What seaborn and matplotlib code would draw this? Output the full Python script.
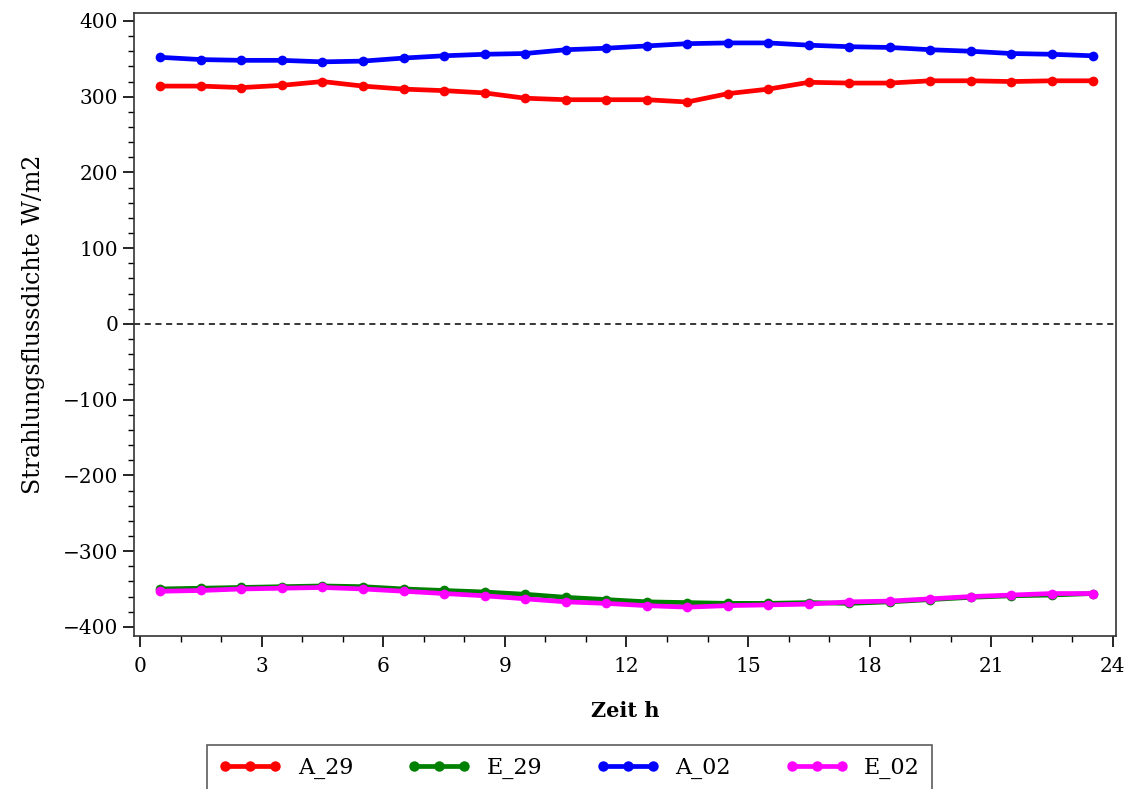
#### Strahlungsflussdichte über den Tag - A/E Messreihen ####

import pandas as pd
import numpy as np
import matplotlib
matplotlib.use('Agg')
import matplotlib.pyplot as plt
from matplotlib.ticker import MultipleLocator
import seaborn as sns

#### Daten ####
zeit = [0.5, 1.5, 2.5, 3.5, 4.5, 5.5, 6.5, 7.5, 8.5, 9.5, 10.5, 11.5,
        12.5, 13.5, 14.5, 15.5, 16.5, 17.5, 18.5, 19.5, 20.5, 21.5, 22.5, 23.5]

a_29 = [314, 314, 312, 315, 320, 314, 310, 308, 305, 298, 296, 296,
        296, 293, 304, 310, 319, 318, 318, 321, 321, 320, 321, 321]
e_29 = [-350, -349, -348, -347, -346, -347, -350, -352, -354, -357, -361, -364,
        -367, -368, -369, -369, -368, -369, -367, -364, -361, -359, -358, -356]
a_02 = [352, 349, 348, 348, 346, 347, 351, 354, 356, 357, 362, 364,
        367, 370, 371, 371, 368, 366, 365, 362, 360, 357, 356, 354]
e_02 = [-353, -352, -350, -349, -348, -350, -353, -356, -359, -363, -367, -369,
        -372, -374, -372, -371, -370, -367, -366, -363, -360, -358, -356, -356]

serien = ['A_29', 'E_29', 'A_02', 'E_02']
farben = ['#ff0000', '#008000', '#0000ff', '#ff00ff']

df = pd.DataFrame({
    'Zeit': zeit * 4,
    'Wert': a_29 + e_29 + a_02 + e_02,
    'Serie': [s for s in serien for _ in zeit],
})

#### Grafik ####
sns.set_style('ticks')
plt.rcParams['font.family'] = ['DejaVu Serif']
plt.rcParams['text.color'] = 'black'
plt.rcParams['axes.labelcolor'] = 'black'
plt.rcParams['xtick.color'] = 'black'
plt.rcParams['ytick.color'] = 'black'

fig = plt.figure(figsize=(11.32, 7.89), dpi=100)
ax = fig.add_axes([0.1184, 0.194, 0.8675, 0.790])

sns.lineplot(data=df, x='Zeit', y='Wert', hue='Serie', hue_order=serien,
             palette=farben, marker='o', markersize=7, markeredgewidth=0,
             linewidth=3.4, ax=ax, legend=False)

ax.axhline(0, color='black', linestyle='--', linewidth=1.1, dashes=(4, 3))

ax.set_xlim(-0.15, 24.08)
ax.set_ylim(-412, 411)
ax.xaxis.set_major_locator(MultipleLocator(3))
ax.xaxis.set_minor_locator(MultipleLocator(1))
ax.yaxis.set_minor_locator(MultipleLocator(20))
ax.tick_params(axis='both', which='major', length=8, width=1.2, labelsize=14.5)
ax.tick_params(axis='x', which='major', pad=7)
ax.tick_params(axis='both', which='minor', length=4, width=1.0)
ax.set_yticks(np.arange(-400, 401, 100))
ax.set_yticklabels([str(v).replace('-', '\u2212') for v in range(-400, 401, 100)])

for s in ax.spines.values():
    s.set_color('#333333')
    s.set_linewidth(1.2)

ax.set_xlabel('Zeit h', fontsize=15, fontweight='bold', labelpad=18)
ax.set_ylabel('Strahlungsflussdichte W/m2', fontsize=17, labelpad=13)

#### Legende unten ####
handles = [plt.Line2D([0], [0], color=f, linewidth=3.4, marker='o', markersize=7.5,
                      markeredgewidth=0) for f in farben]
leg = fig.legend(handles, serien, loc='upper center', bbox_to_anchor=(0.503, 0.056),
                 ncol=4, numpoints=3, handlelength=2.85, handletextpad=0.7,
                 columnspacing=2.45, frameon=True, fancybox=False, borderaxespad=0,
                 edgecolor='#333333', fontsize=16, borderpad=0.55)
leg.get_frame().set_linewidth(1.2)

plt.savefig('out.png', dpi=100)
plt.close()
